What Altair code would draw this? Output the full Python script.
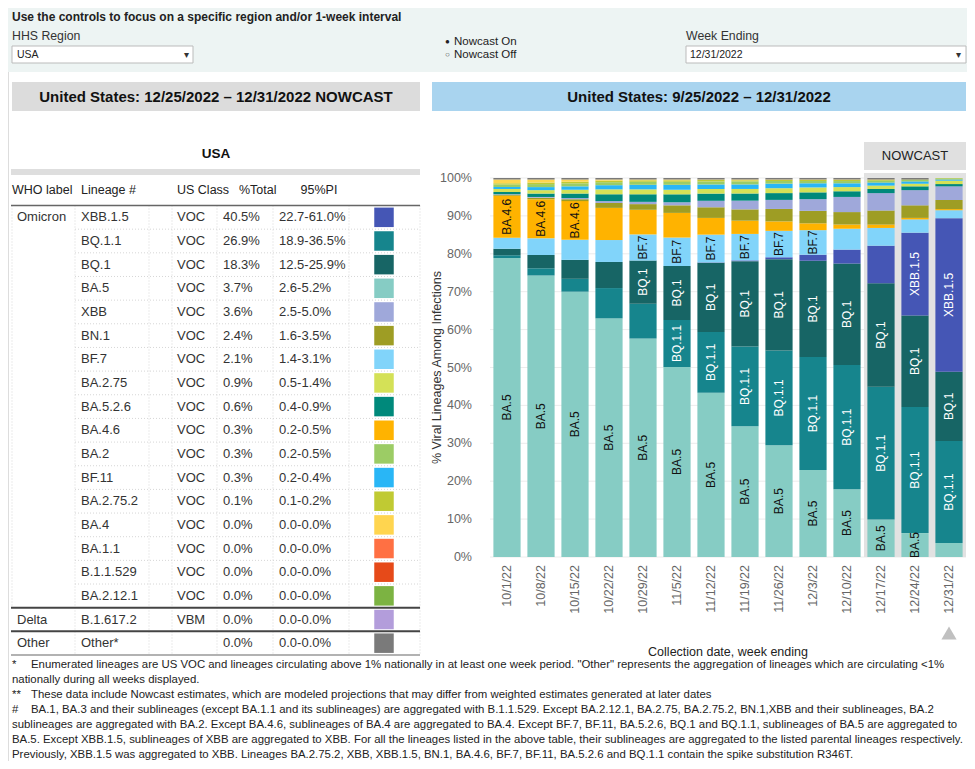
import altair as alt
import pandas as pd

SANS = "'Liberation Sans', Arial, sans-serif"

# ---------------- data ----------------
weeks = ["10/1/22", "10/8/22", "10/15/22", "10/22/22", "10/29/22", "11/5/22", "11/12/22",
         "11/19/22", "11/26/22", "12/3/22", "12/10/22", "12/17/22", "12/24/22", "12/31/22"]
nowcast_weeks = ["12/17/22", "12/24/22", "12/31/22"]
y_ticks = [0.0, 0.1, 0.2, 0.3, 0.4, 0.5, 0.6, 0.7, 0.8, 0.9, 1.0]

lineages = ["XBB.1.5", "BQ.1.1", "BQ.1", "BA.5", "XBB", "BN.1", "BF.7", "BA.2.75", "BA.5.2.6",
            "BA.4.6", "BA.2", "BF.11", "BA.2.75.2", "BA.4", "BA.1.1", "B.1.1.529", "BA.2.12.1",
            "B.1.617.2", "Other"]
lineage_labels = ["XBB.1.5", "BQ.1.1", "BQ.1", "BA.5", "XBB", "BN.1", "BF.7", "BA.2.75", "BA.5.2.6",
                  "BA.4.6", "BA.2", "BF.11", "BA.2.75.2", "BA.4", "BA.1.1", "B.1.1.529", "BA.2.12.1",
                  "B.1.617.2", "Other*"]
who_labels = ["Omicron"] + [""] * 16 + ["Delta", "Other"]
us_class = ["VOC"] * 17 + ["VBM", ""]
pct_total = ["40.5%", "26.9%", "18.3%", "3.7%", "3.6%", "2.4%", "2.1%", "0.9%", "0.6%", "0.3%",
             "0.3%", "0.3%", "0.1%", "0.0%", "0.0%", "0.0%", "0.0%", "0.0%", "0.0%"]
pi_95 = ["22.7-61.0%", "18.9-36.5%", "12.5-25.9%", "2.6-5.2%", "2.5-5.0%", "1.6-3.5%", "1.4-3.1%",
         "0.5-1.4%", "0.4-0.9%", "0.2-0.5%", "0.2-0.5%", "0.2-0.4%", "0.1-0.2%", "0.0-0.0%",
         "0.0-0.0%", "0.0-0.0%", "0.0-0.0%", "0.0-0.0%", "0.0-0.0%"]
colors = ["#4556b5", "#16858d", "#176565", "#86ccc4", "#9fa8da", "#9e9d24", "#81d4fa", "#d4e157",
          "#00897b", "#ffb300", "#9ccc65", "#29b6f6", "#c0ca33", "#ffd54f", "#ff7043", "#e64a19",
          "#7cb342", "#b39ddb", "#7a7a7a"]

stack_order = ["BA.5", "BQ.1.1", "BQ.1", "XBB.1.5", "BF.7", "BA.4.6", "BN.1", "XBB", "BA.5.2.6",
               "BA.2.75", "BF.11", "BA.2", "BA.2.75.2", "BA.4", "BA.1.1", "B.1.1.529", "BA.2.12.1",
               "B.1.617.2", "Other"]

zeros = [0.0] * 14
share = {
    "BA.5":      [79.0, 74.2, 70.0, 63.1, 57.7, 50.1, 43.2, 34.6, 29.6, 23.0, 17.9, 9.9, 6.3, 3.7],
    "BQ.1.1":    [0.7, 1.9, 3.4, 8.0, 9.2, 12.4, 16.0, 21.1, 25.1, 29.9, 32.8, 35.1, 33.2, 26.9],
    "BQ.1":      [1.7, 3.5, 5.0, 6.9, 11.4, 14.2, 18.2, 22.6, 24.2, 25.5, 26.8, 27.4, 24.1, 18.3],
    "XBB.1.5":   [0.0, 0.0, 0.0, 0.0, 0.0, 0.0, 0.1, 0.2, 0.5, 1.6, 3.7, 9.9, 21.8, 40.5],
    "BF.7":      [2.9, 4.4, 5.3, 5.8, 6.9, 7.5, 7.3, 7.0, 7.0, 6.5, 5.5, 4.7, 3.5, 2.1],
    "BA.4.6":    [11.1, 10.3, 10.2, 8.5, 6.5, 6.5, 4.4, 3.5, 2.5, 1.8, 1.1, 0.9, 0.4, 0.3],
    "BN.1":      [0.3, 0.4, 0.5, 1.3, 1.5, 2.0, 2.8, 3.0, 3.3, 3.3, 3.3, 3.7, 3.3, 2.4],
    "XBB":       [0.1, 0.2, 0.3, 0.5, 0.6, 0.8, 1.7, 2.3, 2.4, 3.1, 4.0, 4.6, 4.0, 3.6],
    "BA.5.2.6":  [0.6, 0.9, 1.2, 1.8, 2.0, 2.1, 1.9, 1.9, 1.8, 1.8, 1.5, 1.1, 1.0, 0.6],
    "BA.2.75":   [0.8, 0.9, 1.0, 1.3, 1.3, 1.2, 1.2, 1.2, 1.3, 1.3, 1.1, 0.9, 0.7, 0.9],
    "BF.11":     [0.5, 0.8, 0.9, 1.1, 1.2, 1.3, 1.2, 1.2, 1.2, 1.1, 1.0, 0.8, 0.6, 0.3],
    "BA.2":      [0.7, 0.8, 0.8, 0.8, 0.8, 0.8, 0.8, 0.8, 0.7, 0.6, 0.6, 0.5, 0.4, 0.3],
    "BA.2.75.2": [0.3, 0.4, 0.4, 0.4, 0.4, 0.4, 0.4, 0.3, 0.3, 0.3, 0.3, 0.2, 0.1, 0.1],
    "BA.4":      [1.0, 0.8, 0.6, 0.3, 0.2, 0.2, 0.1, 0.2, 0.1, 0.1, 0.1, 0.1, 0.0, 0.0],
    "BA.1.1":    zeros,
    "B.1.1.529": zeros,
    "BA.2.12.1": zeros,
    "B.1.617.2": zeros,
    "Other":     [0.4, 0.4, 0.4, 0.4, 0.4, 0.4, 0.4, 0.4, 0.4, 0.4, 0.4, 0.4, 0.4, 0.0],
}

labelled = {
    "10/1/22": ["BA.4.6", "BA.5"], "10/8/22": ["BA.4.6", "BA.5"], "10/15/22": ["BA.4.6", "BA.5"],
    "10/22/22": ["BA.5"], "10/29/22": ["BF.7", "BQ.1", "BA.5"],
    "11/5/22": ["BF.7", "BQ.1", "BQ.1.1", "BA.5"], "11/12/22": ["BF.7", "BQ.1", "BQ.1.1", "BA.5"],
    "11/19/22": ["BF.7", "BQ.1", "BQ.1.1", "BA.5"], "11/26/22": ["BF.7", "BQ.1", "BQ.1.1", "BA.5"],
    "12/3/22": ["BF.7", "BQ.1", "BQ.1.1", "BA.5"], "12/10/22": ["BQ.1", "BQ.1.1", "BA.5"],
    "12/17/22": ["BQ.1", "BQ.1.1", "BA.5"], "12/24/22": ["XBB.1.5", "BQ.1", "BQ.1.1", "BA.5"],
    "12/31/22": ["XBB.1.5", "BQ.1", "BQ.1.1"],
}
dark_lineages = ["BQ.1", "BQ.1.1", "XBB.1.5"]

footnotes = [
    ("*", "Enumerated lineages are US VOC and lineages circulating above 1% nationally in at least one week period. \"Other\" represents the aggregation of lineages which are circulating <1%"),
    ("", "nationally during all weeks displayed."),
    ("**", "These data include Nowcast estimates, which are modeled projections that may differ from weighted estimates generated at later dates"),
    ("#", "BA.1, BA.3 and their sublineages (except BA.1.1 and its sublineages) are aggregated with B.1.1.529. Except BA.2.12.1, BA.2.75, BA.2.75.2, BN.1,XBB and their sublineages, BA.2"),
    ("", "sublineages are aggregated with BA.2. Except BA.4.6, sublineages of BA.4 are aggregated to BA.4. Except BF.7, BF.11, BA.5.2.6, BQ.1 and BQ.1.1, sublineages of BA.5 are aggregated to"),
    ("", "BA.5. Except XBB.1.5, sublineages of XBB are aggregated to XBB. For all the lineages listed in the above table, their sublineages are aggregated to the listed parental lineages respectively."),
    ("", "Previously, XBB.1.5 was aggregated to XBB. Lineages BA.2.75.2, XBB, XBB.1.5, BN.1, BA.4.6, BF.7, BF.11, BA.5.2.6 and BQ.1.1 contain the spike substitution R346T."),
]

# ---------------- layout constants (whole page is one view) ----------------
W, H = 959, 753
T0 = 170                    # top of table / plot region
PX0, PX1 = 482, 958         # bar plot left / right
PY0, PY1 = 549, 170         # bar plot bottom / top

one = pd.DataFrame({"k": [0]})


def box(x1, x2, y1, y2, fill, stroke=None, sw=0.0):
    kw = dict(fill=fill)
    if stroke:
        kw.update(stroke=stroke, strokeWidth=sw)
    return alt.Chart(one).mark_rect(**kw).encode(
        x=alt.value(x1), x2=alt.value(x2), y=alt.value(y1), y2=alt.value(y2))


def label(s, x, y, size=12.5, weight="normal", align="left", color="#222", angle=0):
    return alt.Chart(one).mark_text(text=s, fontSize=size, fontWeight=weight, align=align,
                                    baseline="middle", color=color, font=SANS, angle=angle).encode(
        x=alt.value(x), y=alt.value(y))


def vrule(x, y1, y2, color="#d6d6d6", dash=True):
    kw = dict(color=color)
    if dash:
        kw["strokeDash"] = [1, 2]
    return alt.Chart(one).mark_rule(**kw).encode(x=alt.value(x), y=alt.value(y1), y2=alt.value(y2))


cscale = alt.Scale(domain=lineages, range=colors)

# ---------------- decorations: controls, banners, table header, footnotes ----------------
deco = [
    box(0, W, 0, 64, "#edf4f3"),
    label("Use the controls to focus on a specific region and/or 1-week interval", 4, 9,
          size=12, weight="bold"),
    label("HHS Region", 4, 28, size=12.3, color="#333"),
    box(4, 185, 38, 55, "white", "#bbbbbb", 1),
    label("USA", 9, 47, size=10.5),
    label("▾", 176, 47, size=10, color="#333"),
    label("●", 437, 34, size=8),
    label("Nowcast On", 446, 34, size=11.5),
    label("○", 437, 47, size=8, color="#444"),
    label("Nowcast Off", 446, 47, size=11.5),
    label("Week Ending", 678, 28, size=12.3, color="#333"),
    box(678, 958, 38, 55, "white", "#bbbbbb", 1),
    label("12/31/2022", 682, 47, size=10.5),
    label("▾", 948, 47, size=10, color="#333"),
    box(4, 412, 74, 103, "#dcdcdc"),
    label("United States: 12/25/2022 – 12/31/2022 NOWCAST", 208, 89, size=15, weight="bold",
          align="center", color="#111"),
    box(424, 958, 74, 103, "#a9d4ef"),
    label("United States: 9/25/2022 – 12/31/2022", 691, 89, size=15, weight="bold",
          align="center", color="#111"),
    # table header
    label("USA", 208, T0 - 24, size=13.5, weight="bold", align="center", color="#111"),
    box(3, 412, T0 - 9, T0 - 3, "#dedede"),
    label("WHO label", 4, T0 + 12, size=12.5),
    label("Lineage #", 73, T0 + 12, size=12.5),
    label("US Class", 169, T0 + 12, size=12.5),
    label("%Total", 231, T0 + 12, size=12.5),
    label("95%PI", 311, T0 + 12, size=12.5, align="center"),
    # bar chart axis titles
    label("% Viral Lineages Among Infections", 429, (PY0 + PY1) / 2, size=12.5, color="#333",
          align="center", angle=270),
    label("Collection date, week ending", (PX0 + PX1) / 2, PY0 + 95, size=12.5, color="#222",
          align="center"),
]
TR0, TR1 = T0 + 27.5, T0 + 477
for vx in [67, 141, 164, 209, 265, 341, 412]:
    deco.append(vrule(vx, TR0, TR1))
deco.append(vrule(4, TR0, TR0 + 17 * (TR1 - TR0) / 19))
for i, (mark, txt) in enumerate(footnotes):
    y = 657 + i * 15
    if mark:
        deco.append(label(mark, 4, y, size=11.4))
        deco.append(label(txt, 23, y, size=11.4))
    else:
        deco.append(label(txt, 4, y, size=11.4))
deco_layer = alt.layer(*deco)

# ---------------- table ----------------
tdf = pd.DataFrame({
    "idx": list(range(len(lineages))),
    "lineage": lineages,
    "row": lineage_labels,
    "who": who_labels,
    "cls": us_class,
    "pct": pct_total,
    "pi": pi_95,
})
row_scale = alt.Scale(domain=lineage_labels, range=[TR0, TR1], paddingInner=0, paddingOuter=0)


def yrow(bp=None):
    if bp is None:
        return alt.Y("row:N", scale=row_scale, axis=None)
    return alt.Y("row:N", scale=row_scale, axis=None, bandPosition=bp)


def tcol(field, x):
    return alt.Chart(tdf).mark_text(align="left", baseline="middle", fontSize=13, color="#333",
                                    font=SANS).encode(x=alt.value(x), y=yrow(), text=f"{field}:N")


table_layers = [
    alt.Chart(tdf).transform_filter("datum.idx >= 1 && datum.idx <= 16")
    .mark_rule(color="#d6d6d6", strokeDash=[1, 2])
    .encode(x=alt.value(67), x2=alt.value(412), y=yrow(0)),
    alt.Chart(tdf).transform_filter("datum.idx == 0")
    .mark_rule(color="#666666", strokeWidth=1.5)
    .encode(x=alt.value(3), x2=alt.value(412), y=yrow(0)),
    alt.Chart(tdf).transform_filter("datum.idx >= 17")
    .mark_rule(color="#444444", strokeWidth=2)
    .encode(x=alt.value(3), x2=alt.value(412), y=yrow(0)),
    alt.Chart(tdf).transform_filter("datum.idx == 18")
    .mark_rule(color="#999999", strokeWidth=1.5)
    .encode(x=alt.value(3), x2=alt.value(412), y=yrow(1)),
    tcol("who", 9), tcol("row", 73), tcol("cls", 169), tcol("pct", 215), tcol("pi", 271),
    alt.Chart(tdf).mark_square(size=380, opacity=1, filled=True).encode(
        x=alt.value(376), y=yrow(),
        color=alt.Color("lineage:N", scale=cscale, legend=None)),
]
table_layer = alt.layer(*table_layers)

# ---------------- stacked bar chart ----------------
rows = []
for wi, w in enumerate(weeks):
    for oi, lin in enumerate(stack_order):
        rows.append({"week": w, "lineage": lin, "pct": share[lin][wi], "order": oi,
                     "lab": lin in labelled[w], "dark": lin in dark_lineages})
df = pd.DataFrame(rows)

xscale = alt.Scale(domain=weeks, range=[PX0, PX1], paddingInner=0.2, paddingOuter=0.1)
yscale = alt.Scale(domain=[0, 1], range=[PY0, PY1])


def X():
    return alt.X("week:N", scale=xscale, axis=None)


def Yq(field):
    return alt.Y(field, scale=yscale, axis=None)


def stacked():
    return (alt.Chart(df)
            .transform_joinaggregate(total="sum(pct)", groupby=["week"])
            .transform_calculate(frac="datum.pct / datum.total")
            .transform_stack(stack="frac", groupby=["week"], as_=["y0", "y1"],
                             sort=[alt.SortField(field="order", order="ascending")])
            .transform_calculate(ymid="(datum.y0 + datum.y1) / 2"))


tick_df = pd.DataFrame({"t": y_ticks})
grid = alt.Chart(tick_df).mark_rule(color="#ececec").encode(
    y=Yq("t:Q"), x=alt.value(PX0), x2=alt.value(PX1))
ylabels = alt.Chart(tick_df).mark_text(align="right", baseline="middle", fontSize=12.5,
                                       color="#666", font=SANS).encode(
    y=Yq("t:Q"), x=alt.value(PX0 - 18), text=alt.Text("t:Q", format=".0%"))
week_df = pd.DataFrame({"week": weeks})
xlabels = alt.Chart(week_df).mark_text(align="right", baseline="middle", angle=270,
                                       fontSize=12.5, color="#666", font=SANS).encode(
    x=X(), y=alt.value(PY0 + 8), text="week:N")
nc = pd.DataFrame({"week": nowcast_weeks})
shade = alt.Chart(nc).mark_bar(color="#e2e2e2", width=alt.RelativeBandSize(1.25)).encode(
    x=X(), y=alt.value(PY1 - 5), y2=alt.value(PY0))
nc_box = alt.Chart(nc).mark_bar(color="#e0e0e0", width=alt.RelativeBandSize(1.25)).encode(
    x=X(), y=alt.value(PY1 - 36), y2=alt.value(PY1 - 8))
nc_text = alt.Chart(pd.DataFrame({"week": [nowcast_weeks[1]], "t": ["NOWCAST"]})).mark_text(
    fontSize=13, color="#222", font=SANS, baseline="middle").encode(
    x=X(), y=alt.value(PY1 - 22), text="t:N")
bars = stacked().mark_bar().encode(
    x=X(),
    y=Yq("y0:Q"),
    y2="y1:Q",
    color=alt.Color("lineage:N", scale=cscale, legend=None),
)
lab_dark = stacked().transform_filter("datum.lab && !datum.dark").mark_text(
    angle=270, fontSize=12, color="#111", font=SANS, baseline="middle").encode(
    x=X(), y=Yq("ymid:Q"), text="lineage:N")
lab_light = stacked().transform_filter("datum.lab && datum.dark").mark_text(
    angle=270, fontSize=12, color="white", font=SANS, baseline="middle").encode(
    x=X(), y=Yq("ymid:Q"), text="lineage:N")
tri = alt.Chart(pd.DataFrame({"week": [weeks[-1]]})).mark_point(
    shape="triangle-up", filled=True, size=230, color="#c0c0c0", opacity=1).encode(
    x=X(), y=alt.value(PY0 + 76))

bar_layer = alt.layer(grid, ylabels, xlabels, shade, nc_box, nc_text, bars, lab_dark, lab_light, tri)

chart = (alt.layer(deco_layer, table_layer, bar_layer)
         .resolve_scale(y="independent", x="independent")
         .properties(width=W, height=H, padding=0)
         .configure_view(strokeWidth=0)
         .configure(background="white"))

chart.save("out.html", embed_options={"renderer": "svg", "actions": False})
